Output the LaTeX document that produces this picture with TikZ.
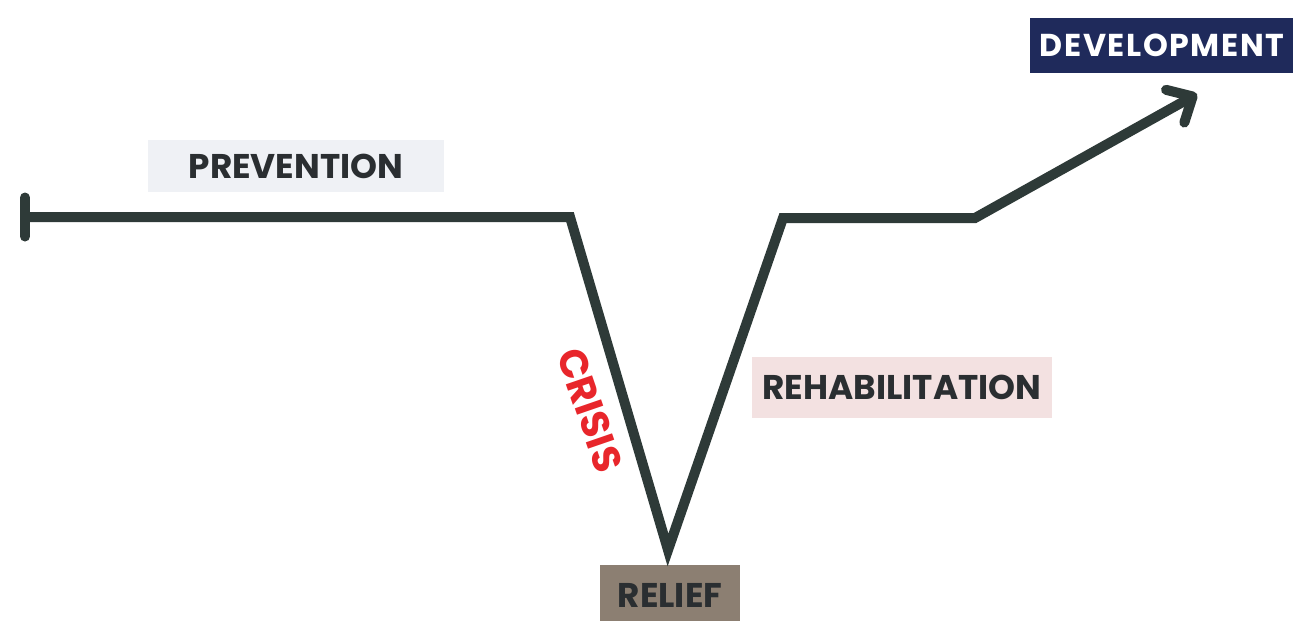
\documentclass[tikz,border=0pt]{standalone}
\usepackage{fontspec}
\setmainfont{Poppins}
\usepackage{xcolor}
\usetikzlibrary{arrows.meta}
\definecolor{pathclr}{HTML}{2E3A38}
\definecolor{inkclr}{HTML}{2A2E31}
\definecolor{prevclr}{HTML}{EFF1F5}
\definecolor{rehabclr}{HTML}{F3E1E1}
\definecolor{reliefclr}{HTML}{8C7F72}
\definecolor{devclr}{HTML}{1F2A5B}
\definecolor{crisisclr}{HTML}{E8262B}
\tikzset{stage/.style={inner sep=0pt,text=inkclr,font=\bfseries\fontsize{19.5}{21}\selectfont},
  phase/.style={line width=0.2cm,draw=pathclr,line join=miter},
  >={Straight Barb[round,length=0.4cm,width=0.75cm]}}
\newcommand{\stage}[4][]{\node[stage,#1] (#2) at (#3) {#4};}

\begin{document}
\begin{tikzpicture}[x=0.02cm,y=-0.02cm]
    \useasboundingbox (0,0) rectangle (1293,620);
    \stage[fill=prevclr,minimum width=5.94cm,minimum height=1.04cm]{prev}{296,166}{PREVENTION}
    \stage[fill=rehabclr,minimum width=6cm,minimum height=1.22cm]{rehab}{902,387}{REHABILITATION}
    \stage[fill=reliefclr,minimum width=2.8cm,minimum height=1.2cm]{relief}{670,595}{RELIEF}
    \stage[fill=devclr,text=white,minimum width=5.3cm,minimum height=1.1cm,
      font=\bfseries\fontsize{18}{20}\selectfont\addfontfeatures{LetterSpace=5}]{dev}{1162,45}{DEVELOPMENT}
    \stage[text=crisisclr,rotate=-71,font=\bfseries\fontsize{22.5}{24}\selectfont]{crisis}{590,410}{CRISIS}

    % the path of the disaster cycle
    \coordinate (start) at (20,217);
    \coordinate (drop) at (570,217);
    \coordinate (low) at (668,550);
    \coordinate (rise) at (783,218);
    \coordinate (knee) at (975,218);
    \coordinate (tip) at (1197,94);
    \draw[phase,{Bar[width=0.78cm,round]}->] (start) -- (drop) -- (low) -- (rise) -- (knee) -- (tip);
\end{tikzpicture}
\end{document}
